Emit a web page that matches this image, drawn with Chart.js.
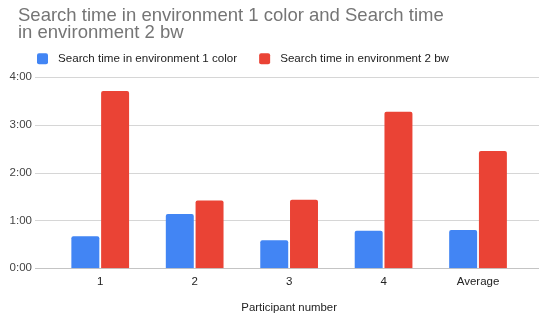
<!DOCTYPE html>
<html>
<head>
<meta charset="utf-8">
<script src="https://cdn.jsdelivr.net/npm/chart.js@4/dist/chart.umd.min.js"></script>
<style>
  html, body { margin: 0; padding: 0; background: #fff; }
  #wrap { width: 540px; height: 320px; }
</style>
</head>
<body>
<div id="wrap"><canvas id="c" width="540" height="320"></canvas></div>
<script>
// Participants along the x axis
const categories = ['1', '2', '3', '4', 'Average'];
// Search times, in seconds
const envColorSeconds = [40, 68, 35, 47, 48];
const envBwSeconds = [222, 85, 86, 196, 147];
const seriesNames = ['Search time in environment 1 color', 'Search time in environment 2 bw'];
const titleLines = ['Search time in environment 1 color and Search time', 'in environment 2 bw'];
const xAxisTitle = 'Participant number';

const FONT = '"Liberation Sans", Arial, sans-serif';
const BLUE = '#4285F4';
const RED = '#EA4335';

function mmss(v) {
  const m = Math.floor(v / 60);
  const s = Math.round(v % 60);
  return m + ':' + String(s).padStart(2, '0');
}

// Horizontal grid lines that run past the category area on both sides
const wideGrid = {
  id: 'wideGrid',
  beforeDatasetsDraw(chart) {
    const y = chart.scales.y;
    const ctx = chart.ctx;
    ctx.save();
    ctx.lineWidth = 1;
    y.ticks.forEach(t => {
      const py = Math.round(y.getPixelForValue(t.value)) + 0.5;
      ctx.strokeStyle = t.value === 0 ? '#c4c4c4' : '#d6d6d6';
      ctx.beginPath();
      ctx.moveTo(35, py);
      ctx.lineTo(539, py);
      ctx.stroke();
    });
    ctx.restore();
  }
};

// Two-line title and a left-aligned legend row above the plot
const header = {
  id: 'header',
  afterDraw(chart) {
    const ctx = chart.ctx;
    ctx.save();
    ctx.textAlign = 'left';
    ctx.textBaseline = 'alphabetic';
    ctx.font = '18.5px ' + FONT;
    ctx.fillStyle = '#757575';
    ctx.fillText(titleLines[0], 18, 20.7);
    ctx.fillText(titleLines[1], 18, 37.5);

    ctx.font = '11.6px ' + FONT;
    ctx.textBaseline = 'middle';
    let x = 37;
    const cy = 58.8;
    chart.data.datasets.forEach(ds => {
      ctx.fillStyle = ds.backgroundColor;
      ctx.beginPath();
      if (ctx.roundRect) ctx.roundRect(x, cy - 5.5, 11, 11, 2);
      else ctx.rect(x, cy - 5.5, 11, 11);
      ctx.fill();
      ctx.fillStyle = '#222';
      ctx.fillText(ds.label, x + 21, cy);
      x += 21 + ctx.measureText(ds.label).width + 22;
    });
    ctx.restore();
  }
};

new Chart(document.getElementById('c'), {
  type: 'bar',
  data: {
    labels: categories,
    datasets: [
      {
        label: seriesNames[0],
        data: envColorSeconds,
        backgroundColor: BLUE,
        borderRadius: { topLeft: 2, topRight: 2 },
        borderSkipped: 'bottom',
        categoryPercentage: 0.63,
        barPercentage: 0.94
      },
      {
        label: seriesNames[1],
        data: envBwSeconds,
        backgroundColor: RED,
        borderRadius: { topLeft: 2, topRight: 2 },
        borderSkipped: 'bottom',
        categoryPercentage: 0.63,
        barPercentage: 0.94
      }
    ]
  },
  options: {
    responsive: false,
    devicePixelRatio: 1,
    animation: false,
    layout: { padding: { left: 2, right: 14.75, top: 76.7, bottom: 0 } },
    plugins: {
      legend: { display: false },
      tooltip: { enabled: false },
      title: { display: false }
    },
    scales: {
      x: {
        grid: { display: false, drawTicks: false },
        border: { display: false },
        ticks: { color: '#222', font: { family: FONT, size: 11.5 }, padding: 6.3 },
        title: {
          display: true,
          text: xAxisTitle,
          color: '#222',
          font: { family: FONT, size: 11.4 },
          padding: { top: 0, bottom: 5 }
        },
        afterFit(scale) { scale.height = 51.7; }
      },
      y: {
        min: 0,
        max: 240,
        grid: { display: false, drawTicks: false },
        border: { display: false },
        ticks: {
          stepSize: 60,
          color: '#444',
          font: { family: FONT, size: 11.5 },
          padding: 21,
          callback: v => mmss(v)
        },
        afterFit(scale) { scale.width = 51; }
      }
    }
  },
  plugins: [wideGrid, header]
});
</script>
</body>
</html>
